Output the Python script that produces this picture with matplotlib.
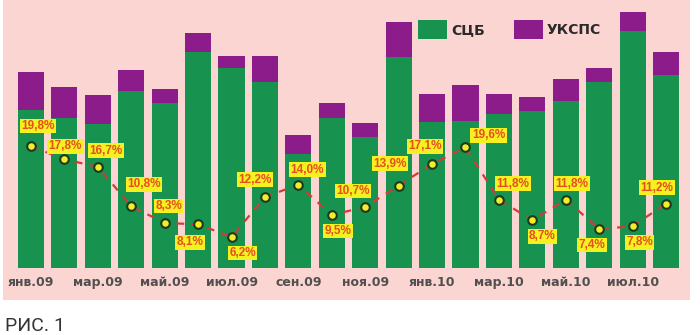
import matplotlib
matplotlib.use("Agg")
import matplotlib.pyplot as plt
from matplotlib.patches import Rectangle
import numpy as np

months = ["янв.09", "фев.09", "мар.09", "апр.09", "май.09", "июн.09", "июл.09",
          "авг.09", "сен.09", "окт.09", "ноя.09", "дек.09", "янв.10", "фев.10",
          "мар.10", "апр.10", "май.10", "июн.10", "июл.10", "авг.10"]
sczb = [158, 150, 144, 177, 165, 216, 200, 186, 114, 150, 131, 211, 146, 147,
        154, 157, 167, 186, 237, 193]
uksps = [38, 31, 29, 21, 14, 19, 12, 26, 19, 15, 14, 35, 28, 36, 20, 14, 22, 14,
         19, 23]
share = [19.8, 17.8, 16.7, 10.8, 8.3, 8.1, 6.2, 12.2, 14.0, 9.5, 10.7, 13.9,
         17.1, 19.6, 11.8, 8.7, 11.8, 7.4, 7.8, 11.2]
series_names = ["СЦБ", "УКСПС"]
caption = "РИС. 1"

# label offsets (pixels) relative to each point
label_offsets = [(7, 20), (1, 13), (8, 16), (13, 22), (4, 17), (-8, -18),
                 (11, -16), (-10, 17), (9, 15), (6, -16), (-12, 16), (-9, 22),
                 (-7, 18), (23, 12), (14, 16), (10, -16), (6, 16), (-7, -16),
                 (7, -16), (-9, 16)]

W, H = 700, 335
fig = plt.figure(figsize=(W / 100, H / 100), dpi=100)
fig.patch.set_facecolor("white")
fig.patches.append(Rectangle((3 / W, 1 - 300 / H), 687 / W, 300 / H,
                             transform=fig.transFigure, facecolor="#fbd5d1",
                             edgecolor="none", zorder=-10))

green = "#17924f"
purple = "#8c1c8a"

ax_left = 14.3 / W
ax_w = 668.4 / W
ax_bottom = (H - 268) / H
ax_h = 268 / H
ax = fig.add_axes([ax_left, ax_bottom, ax_w, ax_h])
ax.patch.set_visible(False)
x = np.arange(len(months))
b1 = ax.bar(x, sczb, width=0.78, color=green, label=series_names[0], zorder=2)
b2 = ax.bar(x, uksps, bottom=sczb, width=0.78, color=purple,
            label=series_names[1], zorder=2)
ax.set_xlim(-0.5, len(months) - 0.5)
ax.set_ylim(0, 268)
for s in ax.spines.values():
    s.set_visible(False)
ax.set_yticks([])
ax.set_xticks(x[::2])
ax.set_xticklabels(months[::2], fontsize=9, fontweight="bold", color="#505050",
                   family="DejaVu Sans")
ax.tick_params(axis="x", length=0, pad=6)

leg = ax.legend(handles=[b1, b2], loc="upper left",
                bbox_to_anchor=((418 - 14.3) / 668.4, 1 - 20 / 268), ncol=2,
                frameon=False, prop={"family": "DejaVu Sans", "weight": "bold",
                                     "size": 10},
                handlelength=2.1, handleheight=1.75, handletextpad=0.3,
                columnspacing=2.05, borderpad=0, borderaxespad=0)
for t in leg.get_texts():
    t.set_color("#2a2a2a")

ax2 = ax.twinx()
ax2.patch.set_visible(False)
ax2.set_ylim(1.57, 41.63)
for s in ax2.spines.values():
    s.set_visible(False)
ax2.set_yticks([])
ax2.plot(x, share, color="#d23c3a", lw=1.6, ls=(0, (3.5, 3.5)), zorder=3)
ax2.plot(x, share, ls="none", marker="o", markersize=6.2,
         markerfacecolor="#f2ee2a", markeredgecolor="#1d3a1c",
         markeredgewidth=1.5, zorder=4)
for xi, v, (dx, dy) in zip(x, share, label_offsets):
    ax2.annotate(f"{v:.1f}".replace(".", ",") + "%", (xi, v),
                 xytext=(dx, dy), textcoords="offset pixels",
                 ha="center", va="center", fontsize=8.5, fontweight="bold",
                 family="Liberation Sans", color="#e5501e",
                 bbox=dict(boxstyle="square,pad=0.12", facecolor="#f5f020",
                           edgecolor="none"), zorder=5)

fig.text(5 / W, 1 - 326 / H, caption, fontsize=14, family="Roboto",
         fontweight="normal", color="#333333", ha="left", va="center")

fig.savefig("out.png", dpi=100)
